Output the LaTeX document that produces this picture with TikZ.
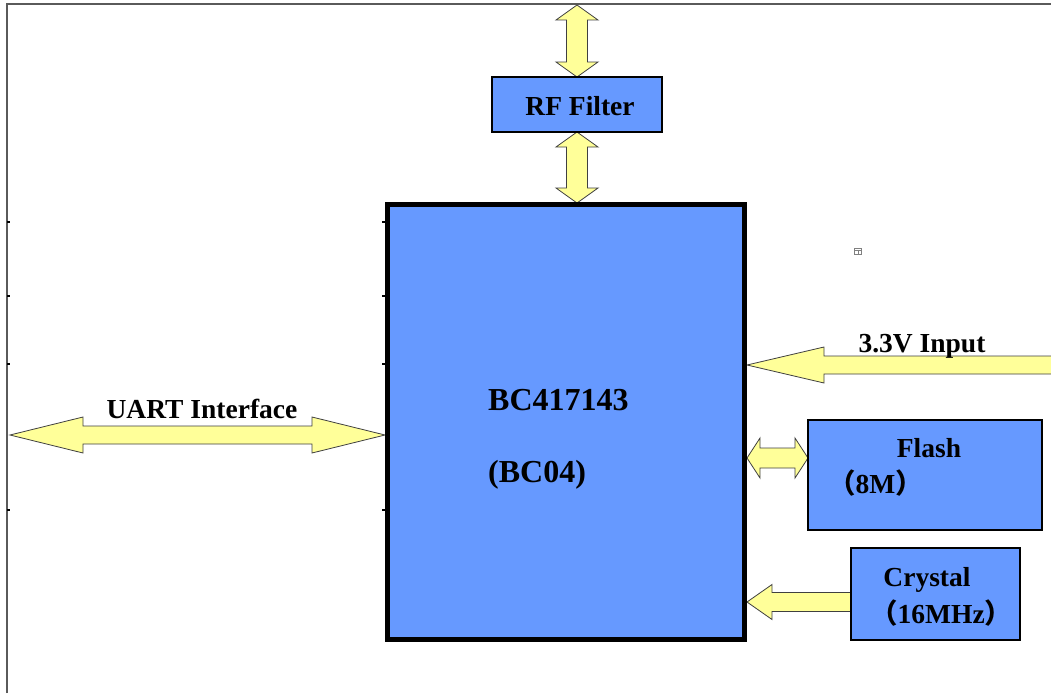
\documentclass[tikz,border=0pt]{standalone}
\usepackage{fontspec}
\setmainfont{Liberation Serif}
\newfontfamily\cjk{Noto Sans CJK SC}
\usetikzlibrary{calc}
\definecolor{boxblue}{HTML}{6699FF}
\definecolor{arryel}{HTML}{FFFF99}
\definecolor{framegray}{HTML}{5A5A5A}
\tikzset{
  blockbox/.style={draw=black, fill=boxblue, line width=1.6pt, inner sep=0pt},
  arr/.style={draw=black!75, fill=arryel, line width=0.8pt, line join=miter},
  lbl/.style={font=\fontsize{27.5}{33}\selectfont\bfseries, inner sep=0pt},
  biglbl/.style={font=\fontsize{32}{38}\selectfont\bfseries, inner sep=0pt},
  tick/.style={draw=black, line width=1.5pt}
}
% horizontal double arrow: x1 x2 y halfshaft halfhead headlen
\newcommand\dblH[6]{\filldraw[arr] (#1,#3) -- (#1+#6,#3-#5) -- (#1+#6,#3-#4) -- (#2-#6,#3-#4) -- (#2-#6,#3-#5) -- (#2,#3) -- (#2-#6,#3+#5) -- (#2-#6,#3+#4) -- (#1+#6,#3+#4) -- (#1+#6,#3+#5) -- cycle;}
% vertical double arrow: y1 y2 x halfshaft halfhead headlen
\newcommand\dblV[6]{\filldraw[arr] (#3,#1) -- (#3-#5,#1+#6) -- (#3-#4,#1+#6) -- (#3-#4,#2-#6) -- (#3-#5,#2-#6) -- (#3,#2) -- (#3+#5,#2-#6) -- (#3+#4,#2-#6) -- (#3+#4,#1+#6) -- (#3+#5,#1+#6) -- cycle;}
% left-pointing single arrow: tipx tailx y halfshaft halfhead headlen
\newcommand\sglL[6]{\filldraw[arr] (#1,#3) -- (#1+#6,#3-#5) -- (#1+#6,#3-#4) -- (#2,#3-#4) -- (#2,#3+#4) -- (#1+#6,#3+#4) -- (#1+#6,#3+#5) -- cycle;}
\begin{document}
\begin{tikzpicture}[x=1pt, y=-1pt]
\useasboundingbox (0,0) rectangle (1051,693);
\fill[white] (0,0) rectangle (1051,693);

% frame
\draw[framegray, line width=2pt] (7,693) -- (7,4) -- (1051,4);

% arrows (behind boxes)
\dblV{5}{77}{577}{10.5}{21}{15}
\dblV{132}{203}{577}{10.5}{21}{15}
\dblH{10}{385}{435}{9}{18}{73}
\sglL{747}{1055}{365}{9}{18}{77}
\dblH{747}{808}{458}{10}{20}{13}
\sglL{747}{851}{602}{9.5}{17.5}{25}

% boxes
\node[blockbox, line width=5pt, minimum width=357pt, minimum height=435pt] (main) at (566,422) {};
\node[blockbox, minimum width=170pt, minimum height=55pt] (rf) at (577,104.5) {};
\node[blockbox, minimum width=234pt, minimum height=110pt] (flash) at (925,475) {};
\node[blockbox, minimum width=169pt, minimum height=92pt] (crystal) at (935.5,594) {};

% ticks
\foreach \yy in {222,296,364,510} {
  \draw[tick] (7,\yy) -- (10,\yy);
  \draw[tick] (382,\yy) -- (385,\yy);
}

% small icon
\draw[gray, line width=0.8pt] (854,248) rectangle (861,254);
\draw[gray, line width=0.6pt] (854,250) -- (861,250) (858,250) -- (858,254);

% labels
\node[lbl, anchor=base] (rftxt) at (580,115) {RF Filter};
\node[lbl, anchor=base] (uarttxt) at (202,418) {UART Interface};
\node[lbl, anchor=base] (vintxt) at (922,352) {3.3V Input};
\node[biglbl, anchor=base west] (chiptxt) at (488,410) {BC417143};
\node[biglbl, anchor=base west] (chip2txt) at (488,482) {(BC04)};
\node[lbl, anchor=base] (flashtxt) at (929,457) {Flash};
\node[lbl, anchor=base west] (flash2txt) at (828,493) {{\cjk\bfseries （}8M{\cjk\bfseries ）}};
\node[lbl, anchor=base] (crystxt) at (927,586) {Crystal};
\node[lbl, anchor=base west] (crys2txt) at (870,623) {{\cjk\bfseries （}16MHz{\cjk\bfseries ）}};
\end{tikzpicture}
\end{document}
